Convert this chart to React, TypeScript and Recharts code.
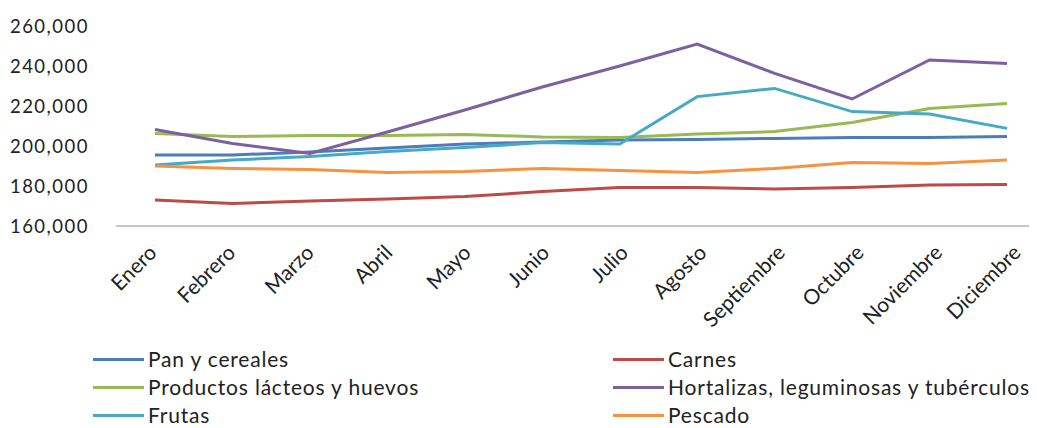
import { CartesianGrid, Legend, Line, LineChart, XAxis, YAxis } from "recharts";

const months = [
  "Enero", "Febrero", "Marzo", "Abril", "Mayo", "Junio",
  "Julio", "Agosto", "Septiembre", "Octubre", "Noviembre", "Diciembre",
];

const panCereales = [195500, 195500, 197000, 199000, 201000, 202000, 203000, 203300, 203800, 204300, 204300, 204700];
const carnes = [173000, 171300, 172500, 173500, 174700, 177200, 179300, 179300, 178500, 179300, 180500, 180800];
const lacteos = [206300, 204700, 205200, 205300, 205800, 204500, 204200, 206000, 207200, 211800, 218800, 221300];
const hortalizas = [208300, 201300, 196300, 207000, 218000, 229500, 240000, 251000, 236300, 223500, 243000, 241300];
const frutas = [190500, 193000, 194700, 197200, 199200, 201700, 201000, 224700, 228800, 217200, 216000, 208800];
const pescado = [190000, 188800, 188300, 186700, 187200, 188800, 187700, 186700, 188800, 191800, 191300, 193000];

const yTicks = [160000, 180000, 200000, 220000, 240000, 260000];

const series = [
  { key: "pan", name: "Pan y cereales", color: "#4A7EBB", values: panCereales },
  { key: "carnes", name: "Carnes", color: "#BE4B48", values: carnes },
  { key: "lacteos", name: "Productos lácteos y huevos", color: "#98B954", values: lacteos },
  { key: "hortalizas", name: "Hortalizas, leguminosas y tubérculos", color: "#7D60A0", values: hortalizas },
  { key: "frutas", name: "Frutas", color: "#46AAC5", values: frutas },
  { key: "pescado", name: "Pescado", color: "#F69240", values: pescado },
];

const data = months.map((m, i) => {
  const row: Record<string, string | number> = { month: m };
  series.forEach((s) => (row[s.key] = s.values[i]));
  return row;
});

const font = "Lato, 'Open Sans', sans-serif";

function MonthTick({ x, y, payload, index }: any) {
  // labels drift a little to the right relative to the points, as in the source
  const shift = 3 + index * 1.1;
  return (
    <g transform={`translate(${x + shift},${y + 26})`}>
      <text
        textAnchor="end"
        transform="rotate(-45)"
        fontFamily={font}
        fontSize={21}
        fill="#222"
      >
        {payload.value}
      </text>
    </g>
  );
}

function TwoColLegend() {
  return (
    <div
      style={{
        display: "grid",
        gridTemplateColumns: "520px 430px",
        fontFamily: font,
        fontSize: 21,
        letterSpacing: 0.8,
        lineHeight: "20px",
        color: "#222",
      }}
    >
      {series.map((s) => (
        <div key={s.key} style={{ display: "flex", alignItems: "center", height: 28 }}>
          <span style={{ display: "inline-block", width: 51, height: 3, background: s.color, marginRight: 4 }} />
          <span>{s.name}</span>
        </div>
      ))}
    </div>
  );
}

export default function App() {
  return (
    <div style={{ width: 1029, height: 420, overflow: "hidden", background: "#fff" }}>
      <LineChart width={1050} height={420} data={data} margin={{ top: 18, right: 12, bottom: 0, left: 0 }}>
        <CartesianGrid stroke="none" />
        <XAxis
          dataKey="month"
          interval={0}
          height={202}
          padding={{ left: 39, right: 39 }}
          tickLine={false}
          tickSize={0}
          axisLine={{ stroke: "#b4b4b4", strokeWidth: 1.5 }}
          tick={<MonthTick />}
        />
        <YAxis
          domain={[160000, 260000]}
          ticks={yTicks}
          width={108}
          axisLine={false}
          tickLine={false}
          tickSize={0}
          tickMargin={27}
          tickFormatter={(v: number) => v.toLocaleString("en-US")}
          tick={{ fontFamily: font, fontSize: 18.5, fill: "#222", letterSpacing: 1.5 }}
        />
        {series.map((s) => (
          <Line
            key={s.key}
            type="linear"
            dataKey={s.key}
            name={s.name}
            stroke={s.color}
            strokeWidth={3}
            dot={false}
            isAnimationActive={false}
          />
        ))}
        <Legend
          layout="horizontal"
          verticalAlign="middle"
          align="center"
          content={<TwoColLegend />}
          wrapperStyle={{ left: 85, top: 337, width: 960, height: 84 }}
        />
      </LineChart>
    </div>
  );
}
